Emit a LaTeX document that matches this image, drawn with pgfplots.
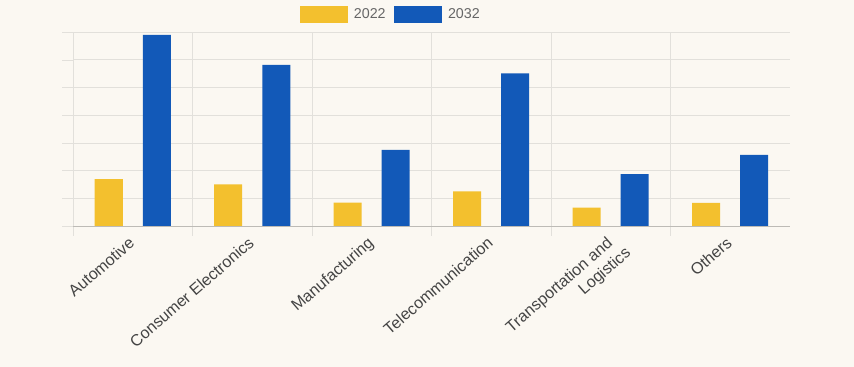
\documentclass[border=0pt]{standalone}
\usepackage{pgfplots}
\pgfplotsset{compat=1.18}
\usepackage{fontspec}
\setmainfont{Liberation Sans}
\definecolor{bg}{HTML}{FBF8F2}
\definecolor{cyellow}{HTML}{F3C02E}
\definecolor{cblue}{HTML}{1259B8}
\definecolor{gridc}{HTML}{E2E0DB}
\definecolor{axisc}{HTML}{BDBBB6}
\definecolor{txt}{HTML}{444444}
\definecolor{legtxt}{HTML}{666666}
\begin{document}
\begin{tikzpicture}
\path[fill=bg] (0,0) rectangle (640.5pt,275.25pt);
\begin{axis}[
  at={(54.75pt,105.75pt)}, anchor=south west,
  scale only axis, width=537.75pt, height=145.5pt,
  xmin=0, xmax=6, ymin=0, ymax=7,
  axis x line*=bottom, axis y line*=left,
  x axis line style={draw=axisc,-},
  y axis line style={draw=gridc,-},
  xtick={0.5,1.5,2.5,3.5,4.5,5.5},
  xticklabels={Automotive,Consumer Electronics,Manufacturing,Telecommunication,{Transportation and\\Logistics\kern-5.5pt},Others},
  xticklabel style={xshift=-3.75pt, yshift=0.75pt, rotate=41, anchor=north east, align=right, font=\fontsize{12.1}{14.4}\selectfont, text=txt, inner sep=0pt},
  major x tick style={draw=none},
  minor xtick={0,1,2,3,4,5},
  xminorgrids, minor x grid style={gridc},
  minor x tick style={gridc},
  minor tick length=7.5pt,
  ytick={0,1,2,3,4,5,6,7}, yticklabels={},
  ymajorgrids, major y grid style={gridc},
  major y tick style={gridc},
  major tick length=8pt,
  tick align=outside,
  ybar=15pt, bar width=21pt,
  legend columns=2,
  legend style={at={(0.444,1)}, anchor=south, yshift=4.75pt, draw=none, fill=none,
    font=\fontsize{10.7}{12}\selectfont, text=legtxt,
    /tikz/every odd column/.append style={column sep=2.25pt},
    /tikz/every even column/.append style={column sep=4.5pt}},
  legend image code/.code={\fill[#1] (0pt,-6.4pt) rectangle (36pt,6.4pt);},
]
\addplot[fill=cyellow, draw=none] coordinates {(0.5,1.69) (1.5,1.50) (2.5,0.84) (3.5,1.25) (4.5,0.66) (5.5,0.83)};
\addplot[fill=cblue, draw=none] coordinates {(0.5,6.90) (1.5,5.81) (2.5,2.75) (3.5,5.51) (4.5,1.87) (5.5,2.57)};
\legend{2022,2032}
\end{axis}
\pgfresetboundingbox
\path (0,0) rectangle (640.5pt,275.25pt);
\end{tikzpicture}
\end{document}
